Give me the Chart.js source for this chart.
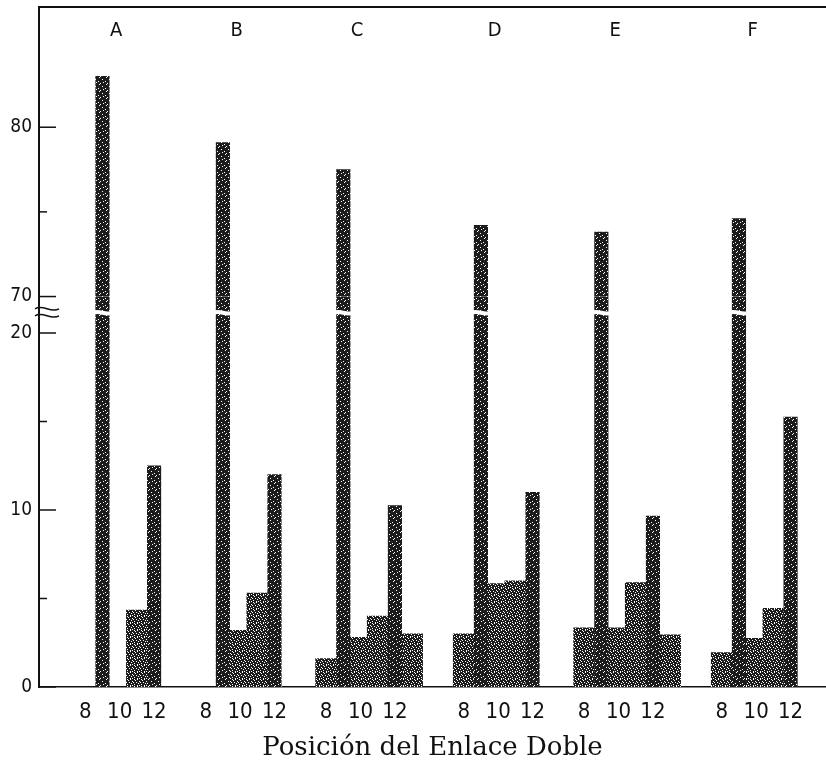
<!DOCTYPE html>
<html>
<head>
<meta charset="utf-8">
<script src="https://cdn.jsdelivr.net/npm/chart.js@4.4.1/dist/chart.umd.min.js"></script>
<style>
  html, body { margin: 0; padding: 0; background: #fff; }
</style>
</head>
<body>
<canvas id="chart" width="826" height="770"></canvas>
<script>
// values per double bond position, one entry per sample A..F
const groups = ['A', 'B', 'C', 'D', 'E', 'F'];
const pos8  = [0, 0, 1.6, 3.0, 3.35, 1.95];
const pos9  = [83.0, 79.1, 77.5, 74.2, 73.8, 74.6];
const pos10 = [0, 3.2, 2.8, 5.85, 3.35, 2.75];
const pos11 = [4.35, 5.3, 4.0, 6.0, 5.9, 4.45];
const pos12 = [12.5, 12.0, 10.25, 11.0, 9.65, 15.25];
const pos13 = [0, 0, 3.0, 0, 2.95, 0];
const xTickText = ['8', '10', '12'];
const yLowTicks = [0, 5, 10, 15, 20];
const yHighTicks = [70, 75, 80];

// layout of the groups on the x axis (where position 9 of each group sits)
const groupStart = [0, 7, 14, 22, 29, 37];
const X_MIN = -3.69, X_MAX = 42.06;
const LOW_MAX = 22.06, HIGH_MIN = 70, HIGH_MAX = 87.1;

const at = (g, p) => groupStart[g] + p - 9;
const orNull = v => (v > 0 ? v : null);

let peaksLow = [], peaksHigh = [], steps = [];
groups.forEach((name, g) => {
    // lower piece runs a little past the top of its scale so it meets the upper piece
    peaksLow.push({ x: at(g, 9), y: pos9[g] > HIGH_MIN ? LOW_MAX + 0.5 : pos9[g] });
    peaksLow.push({ x: at(g, 12), y: pos12[g] });
    if (pos9[g] > HIGH_MIN) peaksHigh.push({ x: at(g, 9), y: [HIGH_MIN, pos9[g]] });
    steps.push({ x: at(g, 8), y: orNull(pos8[g]) });
    steps.push({ x: at(g, 10), y: orNull(pos10[g]) });
    steps.push({ x: at(g, 11), y: orNull(pos11[g]) });
    steps.push({ x: at(g, 13), y: orNull(pos13[g]) });
});

let xTickValues = [];
groupStart.forEach(gs => { xTickValues.push(gs - 1, gs + 1, gs + 3); });

const narrow = "'Liberation Sans Narrow', 'DejaVu Sans Condensed', 'Liberation Sans', sans-serif";

// stippled fill like the printed original
function stipple(base, dots) {
    let c = document.createElement('canvas');
    c.width = 7;
    c.height = 7;
    let g = c.getContext('2d');
    g.fillStyle = base;
    g.fillRect(0, 0, 7, 7);
    g.fillStyle = '#ffffff';
    dots.forEach(d => g.fillRect(d[0], d[1], 1, 1));
    return g.createPattern(c, 'repeat');
}
const peakFill = stipple('#1c1c1c', [[1, 0], [4, 2], [0, 4], [5, 5], [2, 6]]);
const stepFill = stipple('#1c1c1c', [[1, 0], [4, 0], [2, 1], [6, 2], [0, 3], [3, 3], [5, 4], [1, 5], [4, 6], [6, 6]]);

function wave(ctx, x0, x1, y, amp) {
    let w = x1 - x0;
    ctx.beginPath();
    ctx.moveTo(x0, y);
    ctx.bezierCurveTo(x0 + w / 3, y - amp * 2, x0 + 2 * w / 3, y + amp * 2, x1, y);
    ctx.stroke();
}

function noPad(scale) {
    scale.paddingTop = 0;
    scale.paddingBottom = 0;
    scale.paddingLeft = 0;
    scale.paddingRight = 0;
}

const decor = {
    id: 'decor',
    afterDraw(chart) {
        const ctx = chart.ctx;
        const area = chart.chartArea;
        const xs = chart.scales.x, lo = chart.scales.yLow, hi = chart.scales.yHigh;
        ctx.save();
        ctx.strokeStyle = '#111';
        ctx.lineWidth = 2;
        ctx.beginPath();
        ctx.moveTo(area.left, area.top);
        ctx.lineTo(area.right, area.top);
        ctx.stroke();

        // inward ticks
        ctx.lineWidth = 1.5;
        [lo, hi].forEach(s => {
            s.ticks.forEach(t => {
                let y = s.getPixelForValue(t.value);
                let len = t.value % 10 === 0 ? 17 : 8;
                ctx.beginPath();
                ctx.moveTo(area.left, y);
                ctx.lineTo(area.left + len, y);
                ctx.stroke();
            });
        });

        // break marks
        let yb = (lo.getPixelForValue(20) + hi.getPixelForValue(HIGH_MIN)) / 2 - 2;
        ctx.strokeStyle = '#fff';
        ctx.lineWidth = 4;
        groups.forEach((name, g) => {
            if (pos9[g] > HIGH_MIN) {
                let x = xs.getPixelForValue(at(g, 9));
                wave(ctx, x - 9, x + 9, yb, 1.5);
            }
        });
        ctx.strokeStyle = '#111';
        ctx.lineWidth = 1.5;
        wave(ctx, area.left - 4, area.left + 20, yb - 4, 2.5);
        wave(ctx, area.left - 4, area.left + 20, yb + 3, 2.5);

        // sample labels
        ctx.fillStyle = '#111';
        ctx.font = '20px ' + narrow;
        ctx.textAlign = 'center';
        ctx.textBaseline = 'middle';
        groups.forEach((name, g) => {
            ctx.fillText(name, xs.getPixelForValue(at(g, 9) + 0.8), 31);
        });
        ctx.restore();
    }
};

new Chart(document.getElementById('chart').getContext('2d'), {
    type: 'bar',
    data: {
        datasets: [{
            label: 'pico',
            data: peaksLow,
            yAxisID: 'yLow',
            backgroundColor: peakFill,
            barThickness: 13.5
        }, {
            label: 'pico (escala alta)',
            data: peaksHigh,
            yAxisID: 'yHigh',
            backgroundColor: peakFill,
            barThickness: 13.5
        }, {
            label: 'otras posiciones',
            data: steps,
            yAxisID: 'yLow',
            backgroundColor: stepFill,
            barThickness: 21
        }]
    },
    plugins: [decor],
    options: {
        responsive: false,
        animation: false,
        grouped: false,
        layout: { padding: { top: 7, left: 0, right: 0, bottom: 0 } },
        plugins: { legend: { display: false }, tooltip: { enabled: false } },
        scales: {
            x: {
                type: 'linear',
                min: X_MIN,
                max: X_MAX,
                offset: false,
                grid: { display: false, drawTicks: false },
                border: { display: true, color: '#111', width: 1.5 },
                afterBuildTicks: scale => { scale.ticks = xTickValues.map(v => ({ value: v })); },
                afterFit: scale => { scale.height = 83; noPad(scale); },
                ticks: {
                    autoSkip: false,
                    maxRotation: 0,
                    padding: 12,
                    color: '#111',
                    font: { family: narrow, size: 22 },
                    callback: (value, index) => xTickText[index % 3]
                },
                title: {
                    display: true,
                    text: 'Posición del Enlace Doble',
                    color: '#111',
                    font: { family: "'DejaVu Serif', serif", size: 26 },
                    padding: { top: 0, bottom: 6 }
                }
            },
            yLow: {
                type: 'linear',
                position: 'left',
                stack: 'y',
                stackWeight: 390,
                min: 0,
                max: LOW_MAX,
                grid: { display: false, drawTicks: false },
                border: { display: true, color: '#111', width: 2 },
                afterBuildTicks: scale => { scale.ticks = yLowTicks.map(v => ({ value: v })); },
                afterFit: scale => { scale.width = 39; noPad(scale); },
                ticks: {
                    padding: 7,
                    color: '#111',
                    font: { family: narrow, size: 19 },
                    callback: v => (v % 10 === 0 ? String(v) : '')
                }
            },
            yHigh: {
                type: 'linear',
                position: 'left',
                stack: 'y',
                stackWeight: 289.2,
                min: HIGH_MIN,
                max: HIGH_MAX,
                grid: { display: false, drawTicks: false },
                border: { display: true, color: '#111', width: 2 },
                afterBuildTicks: scale => { scale.ticks = yHighTicks.map(v => ({ value: v })); },
                afterFit: scale => { scale.width = 39; noPad(scale); },
                ticks: {
                    padding: 7,
                    color: '#111',
                    font: { family: narrow, size: 19 },
                    callback: v => (v % 10 === 0 ? String(v) : '')
                }
            }
        }
    }
});
</script>
</body>
</html>
